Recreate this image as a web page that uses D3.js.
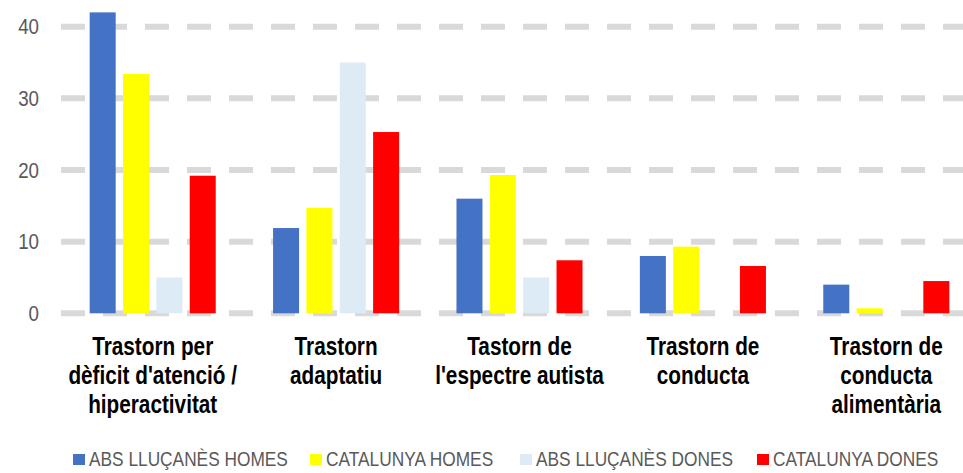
<!DOCTYPE html>
<html>
<head>
<meta charset="utf-8">
<script src="https://cdn.jsdelivr.net/npm/d3@7"></script>
<style>
  html, body { margin: 0; padding: 0; background: #fff; }
  svg { display: block; }
</style>
</head>
<body>
<div id="chart"></div>
<script>
// data
const categories = [
    ["Trastorn per", "dèficit d'atenció /", "hiperactivitat"],
    ["Trastorn", "adaptatiu"],
    ["Tastorn de", "l'espectre autista"],
    ["Trastorn de", "conducta"],
    ["Trastorn de", "conducta", "alimentària"]
];
const seriesNames = ["ABS LLUÇANÈS HOMES", "CATALUNYA HOMES", "ABS LLUÇANÈS DONES", "CATALUNYA DONES"];
const seriesColors = ["#4472C4", "#FFFF00", "#DDEBF7", "#FF0000"];
const absHomes = [42.0, 11.9, 16.0, 8.0, 4.0];
const catHomes = [33.4, 14.7, 19.3, 9.3, 0.7];
const absDones = [5.0, 35.0, 5.0, 0, 0];
const catDones = [19.2, 25.3, 7.4, 6.6, 4.5];
const yTicks = [0, 10, 20, 30, 40];

const series = [absHomes, catHomes, absDones, catDones];

const W = 963, H = 473;
const svg = d3.select("#chart").append("svg")
    .attr("width", W)
    .attr("height", H);

// text in the reference is squeezed sideways
const squeeze = 0.85;

const x0 = d3.scaleBand()
    .domain(d3.range(categories.length))
    .range([61, 978])
    .paddingInner(0)
    .paddingOuter(0);

const x1 = d3.scaleBand()
    .domain(d3.range(series.length))
    .range([25, x0.bandwidth() - 25])
    .paddingInner(0.22)
    .paddingOuter(0.11);

const y = d3.scaleLinear()
    .domain([0, 40])
    .range([313.3, 26.7]);

// dashed gridlines
svg.append("g")
    .selectAll("line")
    .data(yTicks)
    .join("line")
    .attr("x1", 61)
    .attr("x2", W)
    .attr("y1", d => y(d))
    .attr("y2", d => y(d))
    .attr("stroke", "#D9D9D9")
    .attr("stroke-width", 6)
    .attr("stroke-dasharray", "24 18");

// y labels
svg.append("g")
    .selectAll("text")
    .data(yTicks)
    .join("text")
    .attr("transform", d => "translate(39," + (y(d) + 7.5) + ") scale(" + squeeze + ",1)")
    .attr("text-anchor", "end")
    .style("font-family", "'Liberation Sans', Arial, sans-serif")
    .style("font-size", "22px")
    .attr("fill", "#595959")
    .text(d => d);

// bars
const groups = svg.append("g")
    .selectAll("g")
    .data(categories.map((c, i) => i))
    .join("g")
    .attr("transform", i => "translate(" + x0(i) + ",0)");

groups.selectAll("rect")
    .data(i => series.map((s, k) => ({ k: k, v: s[i] })))
    .join("rect")
    .attr("x", d => x1(d.k))
    .attr("width", x1.bandwidth())
    .attr("y", d => y(d.v))
    .attr("height", d => y(0) - y(d.v))
    .attr("fill", d => seriesColors[d.k]);

// category labels
const labels = svg.append("g")
    .selectAll("text")
    .data(categories)
    .join("text")
    .attr("transform", (d, i) => "translate(" + (x0(i) + x0.bandwidth() / 2) + ",355) scale(0.83,1)")
    .attr("text-anchor", "middle")
    .style("font-family", "'Liberation Sans', Arial, sans-serif")
    .style("font-size", "25px")
    .style("font-weight", "bold")
    .attr("fill", "#000");

labels.selectAll("tspan")
    .data(d => d)
    .join("tspan")
    .attr("x", 0)
    .attr("dy", (d, j) => j === 0 ? 0 : 29)
    .text(d => d);

// legend
const legendX = [73, 310, 520, 757];
const legend = svg.append("g")
    .selectAll("g")
    .data(seriesNames)
    .join("g")
    .attr("transform", (d, i) => "translate(" + legendX[i] + ",0)");

legend.append("rect")
    .attr("x", 0)
    .attr("y", 454)
    .attr("width", 12)
    .attr("height", 11)
    .attr("fill", (d, i) => seriesColors[i]);

legend.append("text")
    .attr("transform", "translate(16,466) scale(0.865,1)")
    .style("font-family", "'Liberation Sans', Arial, sans-serif")
    .style("font-size", "20px")
    .attr("fill", "#595959")
    .text(d => d);
</script>
</body>
</html>
